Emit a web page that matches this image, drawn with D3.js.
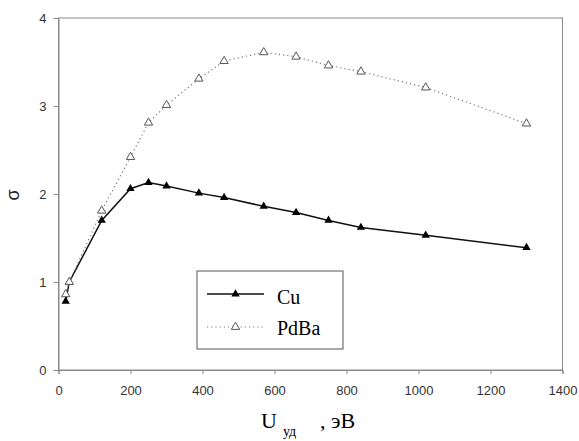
<!doctype html>
<html lang="ru">
<head>
<meta charset="utf-8" />
<title>sigma</title>
<script src="https://cdn.jsdelivr.net/npm/d3@7"></script>
<style>
  body { margin: 0; background: #fff; }
  .tick text { font-family: "Liberation Sans", Arial, sans-serif; font-size: 13px; fill: #333; }
  .tick line, .domain { stroke: #8a8a8a; }
</style>
</head>
<body>
<div id="chart"></div>
<script>
// data
var uCu = [20, 30, 120, 200, 250, 300, 390, 460, 570, 660, 750, 840, 1020, 1300];
var sigmaCu = [0.78, 1.0, 1.7, 2.06, 2.13, 2.09, 2.01, 1.96, 1.86, 1.79, 1.7, 1.62, 1.53, 1.39];
var uPdBa = [20, 30, 120, 200, 250, 300, 390, 460, 570, 660, 750, 840, 1020, 1300];
var sigmaPdBa = [0.86, 1.0, 1.81, 2.42, 2.81, 3.01, 3.31, 3.51, 3.61, 3.56, 3.46, 3.39, 3.21, 2.8];
var xTicks = [0, 200, 400, 600, 800, 1000, 1200, 1400];
var yTicks = [0, 1, 2, 3, 4];

var width = 579, height = 441;
// note: "top" is taken by window.top, so plot edges get their own names
var plotLeft = 58.5, plotRight = 562.5, plotTop = 18, plotBottom = 370;

var svg = d3.select("#chart").append("svg")
  .attr("width", width)
  .attr("height", height);

var x = d3.scaleLinear().domain([0, 1400]).range([plotLeft, plotRight]);
var y = d3.scaleLinear().domain([0, 4]).range([plotBottom, plotTop]);

// frame round the plot
svg.append("rect")
  .attr("x", plotLeft).attr("y", plotTop)
  .attr("width", plotRight - plotLeft).attr("height", plotBottom - plotTop)
  .attr("fill", "none").attr("stroke", "#8a8a8a");

svg.append("g")
  .attr("transform", "translate(0," + plotBottom + ")")
  .call(d3.axisBottom(x).tickValues(xTicks).tickSize(4).tickPadding(12).tickFormat(d3.format("d")));

svg.append("g")
  .attr("transform", "translate(" + plotLeft + ",0)")
  .call(d3.axisLeft(y).tickValues(yTicks).tickSize(5).tickPadding(7).tickFormat(d3.format("d")));

var cu = uCu.map(function(d, i){ return [d, sigmaCu[i]]; });
var pd = uPdBa.map(function(d, i){ return [d, sigmaPdBa[i]]; });

var line = d3.line()
  .x(function(d){ return x(d[0]); })
  .y(function(d){ return y(d[1]); });

var tri = d3.symbol().type(d3.symbolTriangle).size(30);

// Cu: solid line, filled triangles
svg.append("path").datum(cu)
  .attr("d", line).attr("fill", "none")
  .attr("stroke", "#111").attr("stroke-width", 1.5);
svg.selectAll(".cu").data(cu).enter().append("path")
  .attr("class", "cu")
  .attr("d", tri)
  .attr("transform", function(d){ return "translate(" + x(d[0]) + "," + y(d[1]) + ")"; })
  .attr("fill", "#000");

// PdBa: dotted line, open triangles
svg.append("path").datum(pd)
  .attr("d", line).attr("fill", "none")
  .attr("stroke", "#777").attr("stroke-width", 1.2)
  .attr("stroke-dasharray", "1.2,3");
svg.selectAll(".pd").data(pd).enter().append("path")
  .attr("class", "pd")
  .attr("d", tri)
  .attr("transform", function(d){ return "translate(" + x(d[0]) + "," + y(d[1]) + ")"; })
  .attr("fill", "#fff").attr("stroke", "#555").attr("stroke-width", 1);

// legend
var lg = svg.append("g");
lg.append("rect")
  .attr("x", 197).attr("y", 271).attr("width", 146).attr("height", 78)
  .attr("fill", "#fff").attr("stroke", "#555");
lg.append("line").attr("x1", 207).attr("x2", 264).attr("y1", 294).attr("y2", 294)
  .attr("stroke", "#111").attr("stroke-width", 1.5);
lg.append("path").attr("d", tri).attr("transform", "translate(235.5,294)").attr("fill", "#000");
lg.append("line").attr("x1", 207).attr("x2", 264).attr("y1", 327).attr("y2", 327)
  .attr("stroke", "#777").attr("stroke-width", 1.2).attr("stroke-dasharray", "1.2,3");
lg.append("path").attr("d", tri).attr("transform", "translate(235.5,327)")
  .attr("fill", "#fff").attr("stroke", "#555");
lg.append("text").attr("x", 277).attr("y", 304)
  .attr("font-family", "Liberation Serif, serif").attr("font-size", "20px").text("Cu");
lg.append("text").attr("x", 277).attr("y", 335)
  .attr("font-family", "Liberation Serif, serif").attr("font-size", "20px").text("PdBa");

// axis titles
svg.append("text").attr("x", 261).attr("y", 428)
  .attr("font-family", "Liberation Serif, serif").attr("font-size", "22px").text("U");
svg.append("text").attr("x", 283).attr("y", 436)
  .attr("font-family", "Liberation Serif, serif").attr("font-size", "14px").text("уд");
svg.append("text").attr("x", 320).attr("y", 428)
  .attr("font-family", "Liberation Serif, serif").attr("font-size", "22px").text(", эВ");

svg.append("text")
  .attr("transform", "translate(19,195) rotate(-90)")
  .attr("text-anchor", "middle")
  .attr("font-family", "Liberation Sans, Arial, sans-serif").attr("font-size", "18px")
  .attr("fill", "#222")
  .text("σ");
</script>
</body>
</html>
